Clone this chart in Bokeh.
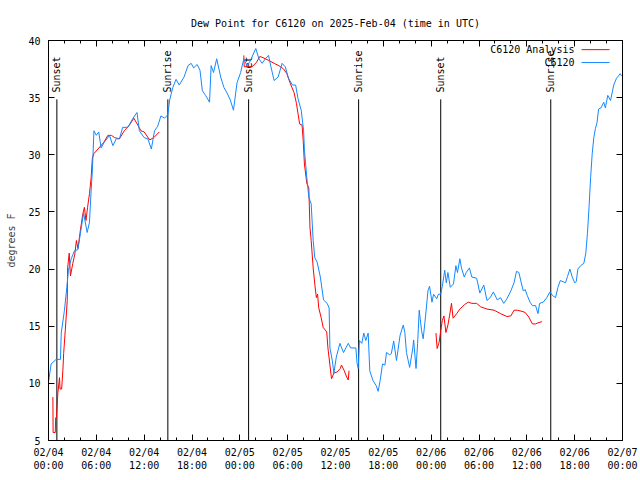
import math
from bokeh.plotting import figure
from bokeh.models import Range1d, FixedTicker, LinearAxis, ColumnDataSource, Label, CustomJSTickFormatter
from bokeh.core.properties import value
from bokeh.embed import file_html
from bokeh.resources import INLINE

FONT = "DejaVu Sans Mono"
NAN = float("nan")

# hours since 2025-02-04 00:00 UTC
blue_hours = [0, 0.33, 0.96, 1.5, 1.6, 2.0, 2.3, 2.5, 2.85, 3.26, 3.68, 4.0, 4.4, 4.85, 5.14, 5.35, 5.5, 5.7,
              6.0, 6.3, 6.6, 7.0, 7.65, 8.07, 8.5, 8.9, 9.3, 9.95, 10.6, 11.1, 11.4, 12.0, 12.46, 12.9, 13.3,
              13.7, 14.1, 14.55, 14.97, 15.2, 15.6, 16.0, 16.4, 17.0, 17.5, 17.9, 18.2, 18.65, 19.0, 19.3,
              19.7, 20.2, 20.4, 20.7, 21.1, 21.6, 22.0, 22.4, 22.8, 23.2, 23.65, 24.1, 24.5, 24.9, 25.3, 26.0,
              26.4, 26.8, 27.2, 27.6, 27.9, 28.3, 28.8, 29.3, 29.7, 30.1, 30.6, 31.0, 31.3, 31.7, 32.0, 32.1,
              32.4, 32.65, 32.95, 33.2, 33.4, 33.7, 34.1, 34.5, 34.95, 35.2, 35.3, 35.6, 35.8, 36.1, 36.55,
              37.0, 37.6, 37.9, 38.55, 38.7, 38.85, 39.0, 39.3, 39.55, 39.8, 40.1, 40.3, 40.7, 41.1, 41.35,
              41.6, 41.9, 42.2, 42.4, 42.8, 43.0, 43.3, 43.65, 44.1, 44.5, 44.7, 44.9, 45.3, 45.7, 45.8, 46.1,
              46.3, 46.5, 46.8, 47.0, 47.3, 47.6, 47.8, 48.1, 48.3, 48.7, 48.9, 49.2, 49.4, 49.7, 49.9, 50.1,
              50.4, 50.8, 51.1, 51.3, 51.6, 51.8, 52.15, 52.4, 52.8, 53.1, 53.7, 53.9, 54.1, 54.6, 55.0, 55.4,
              55.8, 56.3, 56.7, 57.1, 57.5, 58.0, 58.4, 58.7, 59.0, 59.3, 59.55, 59.8, 60.05, 60.4, 60.7, 61.1,
              61.4, 61.6, 62.05, 62.5, 62.9, 63.2, 63.6, 63.9, 64.2, 64.85, 65.1, 65.4, 65.7, 66.0, 66.2, 66.4,
              66.75, 67.15, 67.4, 67.6, 67.8, 68.0, 68.2, 68.4, 68.6, 68.8, 69.0, 69.3, 69.65, 69.85, 70.15,
              70.5, 70.9, 71.25, 71.5, 71.7, 71.9]
blue_dewpt = [10.1, 11.7, 12.1, 12.1, 14.4, 16.4, 18.4, 19.9, 20.9, 21.6, 21.7, 23.1, 24.9, 23.2, 24.1, 26.9, 28.6,
              32.1, 31.7, 32.0, 30.6, 31.1, 31.7, 30.8, 31.4, 31.4, 32.4, 32.4, 33.2, 33.7, 32.1, 31.5, 31.4,
              30.5, 32.1, 32.5, 33.4, 33.2, 33.5, 34.8, 35.9, 36.6, 36.1, 36.8, 37.8, 38.0, 37.6, 37.9, 37.4,
              35.6, 35.2, 34.6, 37.8, 37.2, 38.4, 36.8, 35.9, 35.4, 34.8, 33.9, 36.3, 37.2, 38.4, 37.8, 38.2,
              39.3, 38.4, 38.0, 38.4, 38.7, 37.7, 36.5, 36.8, 38.0, 37.7, 36.7, 36.1, 36.1, 34.9, 33.9, 32.1,
              30.4, 28.0, 26.3, 25.7, 22.5, 21.0, 20.6, 19.3, 17.3, 17.0, 16.6, 13.1, 12.0, 10.9, 12.3, 13.5,
              12.7, 13.5, 13.1, 13.1, 11.8, 11.3, 13.75, 13.5, 14.4, 13.75, 14.4, 11.1, 10.25, 9.8, 9.3,
              10.25, 11.7, 11.6, 12.7, 12.5, 12.6, 13.7, 12.0, 14.2, 15.1, 14.45, 12.7, 11.4, 13.1, 13.8, 11.3,
              13.5, 16.4, 14.6, 13.9, 15.9, 18.1, 18.5, 17.1, 17.8, 17.4, 17.8, 17.8, 18.5, 19.9, 18.8, 19.7,
              18.4, 18.7, 20.3, 19.7, 20.9, 20.1, 19.3, 19.7, 20.1, 19.3, 19.2, 18.6, 17.9, 18.6, 17.25, 17.5,
              18.0, 17.3, 17.5, 17.0, 17.4, 18.1, 18.8, 19.8, 19.7, 18.8, 18.1, 18.2, 17.7, 17.1, 16.8, 16.8,
              16.1, 17.0, 17.1, 17.5, 18.0, 17.7, 17.5, 18.4, 19.0, 18.8, 19.35, 20.0, 19.3, 18.8, 18.9, 20.0,
              20.3, 20.5, 21.4, 23.1, 25.4, 28.0, 30.1, 31.5, 32.3, 32.8, 34.0, 34.1, 34.6, 34.1, 35.2,
              34.75, 36.1, 36.7, 36.9, 37.1, 36.9]

red_hours = [0.55, 0.58, 0.85, 0.9, 1.0, 1.17, 1.38, 1.45, 1.65, 1.8, 1.9, 2.1, 2.35, 2.4, 2.6, 2.75, 3.05, 3.3,
             3.5, 3.7, 4.0, 4.3, 4.5, 4.7, 4.9, 5.14, 5.35, 5.5, 5.7, 6.95, 7.45, 7.9, 8.3, 8.9, 9.5, 10.15,
             10.7, 11.2, 11.6, 12.0, 12.7, 13.2, 13.9, NAN,
             24.5, 24.55, 25.55, 26.1, 26.5, 26.9, 27.65, 28.3, 28.9, 29.5, 29.9, 30.35, 30.8, 31.1, 31.3, 31.5,
             31.8, 31.95, 32.1, 32.4, 32.65, 32.8, 32.95, 33.2, 33.4, 33.6, 33.75, 33.9, 34.2, 34.45, 34.9,
             35.05, 35.3, 35.5, 35.8, 36.2, 36.6, 36.75, 37.1, 37.4, 37.6, 37.7, NAN,
             48.6, 48.75, 49.0, 49.2, 49.4, 49.6, 49.85, 50.1, 50.3, 50.55, 50.75, 51.2, 51.6, 52.2, 52.65, 53.1,
             53.7, 54.2, 55.0, 55.9, 56.7, 57.5, 58.0, 58.4, 58.8, 59.4, 59.8, 60.25, 60.7, 61.1, 61.4, 61.9]
red_dewpt = [8.8, 5.7, 5.7, 7.0, 7.0, 9.1, 10.5, 9.5, 9.5, 11.1, 12.6, 14.6, 17.25, 20.1, 21.4, 19.4, 20.5, 21.3,
             22.5, 21.8, 23.4, 24.8, 25.4, 24.25, 25.4, 26.6, 28.0, 29.7, 30.1, 31.1, 31.7, 31.7, 31.5, 31.4,
             32.1, 32.6, 33.2, 32.6, 32.1, 32.0, 31.3, 31.5, 32.0, NAN,
             38.7, 37.7, 37.7, 38.1, 38.6, 38.5, 38.25, 38.0, 37.8, 37.5, 37.1, 36.2, 35.45, 34.5, 33.6, 32.7,
             32.6, 31.25, 29.2, 27.5, 27.1, 23.6, 22.5, 20.1, 18.7, 17.5, 17.8, 16.6, 15.75, 14.9, 14.5,
             13.1, 11.6, 10.4, 10.9, 11.0, 11.3, 11.6, 11.1, 10.55, 10.3, 11.1, NAN,
             14.4, 13.05, 13.6, 14.6, 15.5, 15.9, 14.45, 15.1, 15.9, 17.0, 15.7, 16.1, 16.5, 16.9, 17.1, 17.0,
             17.0, 16.7, 16.5, 16.4, 16.1, 15.85, 15.9, 16.4, 16.4, 16.3, 16.2, 15.8, 15.2, 15.2, 15.3, 15.4]

sun_hours = [1.05, 14.97, 25.1, 38.9, 49.2, 63.0]
sun_names = ["Sunset", "Sunrise", "Sunset", "Sunrise", "Sunset", "Sunrise"]

x_ticks = [0, 6, 12, 18, 24, 30, 36, 42, 48, 54, 60, 66, 72]
x_tick_labels = ["02/04\n00:00", "02/04\n06:00", "02/04\n12:00", "02/04\n18:00",
                 "02/05\n00:00", "02/05\n06:00", "02/05\n12:00", "02/05\n18:00",
                 "02/06\n00:00", "02/06\n06:00", "02/06\n12:00", "02/06\n18:00",
                 "02/07\n00:00"]
y_ticks = [5, 10, 15, 20, 25, 30, 35, 40]

BLUE = "#1488ff"
RED = "#ff0000"

p = figure(width=640, height=480, output_backend="svg", toolbar_location=None,
           x_range=Range1d(0, 72), y_range=Range1d(5, 40),
           min_border_left=48, min_border_right=18, min_border_top=40, min_border_bottom=40,
           x_axis_type=None, y_axis_type=None)
p.title.text = "Dew Point for C6120 on 2025-Feb-04 (time in UTC)"
p.title.align = "center"
p.title.text_font = FONT
p.title.text_font_size = "10px"
p.title.text_font_style = "normal"
p.title.text_color = "black"
p.title.standoff = 23
p.grid.visible = False
p.outline_line_color = "black"
p.outline_line_alpha = 1.0
p.background_fill_color = "white"
p.border_fill_color = "white"

minor = list(range(0, 73, 2))
xt = FixedTicker(ticks=x_ticks, minor_ticks=minor)
yt = FixedTicker(ticks=y_ticks, minor_ticks=[])
blank = CustomJSTickFormatter(code="return ''")

def style_axis(ax, labels=True):
    ax.major_tick_in = 6
    ax.major_tick_out = 0
    ax.minor_tick_in = 3
    ax.minor_tick_out = 0
    ax.axis_line_color = "black"
    ax.major_tick_line_color = "black"
    ax.minor_tick_line_color = "black"
    ax.major_label_text_font = FONT
    ax.major_label_text_font_size = "10px"
    ax.major_label_text_color = "black"
    if not labels:
        ax.formatter = blank
        ax.major_label_standoff = 0

xb = LinearAxis(ticker=xt, major_label_overrides={t: l for t, l in zip(x_ticks, x_tick_labels)})
style_axis(xb)
xb.major_label_standoff = 6
p.add_layout(xb, "below")

xa = LinearAxis(ticker=xt)
style_axis(xa, labels=False)
p.add_layout(xa, "above")

yl = LinearAxis(ticker=yt, axis_label="degrees F")
style_axis(yl)
yl.major_label_standoff = 8
yl.axis_label_text_font = FONT
yl.axis_label_text_font_size = "10px"
yl.axis_label_text_font_style = "normal"
yl.axis_label_standoff = 8
p.add_layout(yl, "left")

yr = LinearAxis(ticker=yt)
style_axis(yr, labels=False)
p.add_layout(yr, "right")

# sunrise / sunset markers
sun_src = ColumnDataSource(dict(x=sun_hours, name=sun_names,
                                y0=[34.85] * len(sun_hours), y1=[5] * len(sun_hours),
                                ty=[35.45] * len(sun_hours)))
p.segment(x0="x", y0="y0", x1="x", y1="y1", source=sun_src, line_color="black", line_width=1)
p.text(x="x", y="ty", text="name", source=sun_src, angle=math.pi / 2,
       text_align="left", text_baseline="middle", text_font=value(FONT),
       text_font_size="10px", text_color="black")

p.line(red_hours, red_dewpt, line_color=RED, line_width=1)
p.line(blue_hours, blue_dewpt, line_color=BLUE, line_width=1)

# gnuplot-style key (text then sample line)
key_names = ["C6120 Analysis", "C6120"]
key_colors = [RED, BLUE]
key_y = [39.2, 38.07]
for name, col, ky in zip(key_names, key_colors, key_y):
    p.add_layout(Label(x=65.98, y=ky, text=name, text_align="right", text_baseline="middle",
                       text_font=FONT, text_font_size="10px", text_color="black"))
    p.segment(x0=[66.86], y0=[ky], x1=[70.37], y1=[ky], line_color=col, line_width=1)

open("out.html", "w").write(file_html(p, INLINE))
